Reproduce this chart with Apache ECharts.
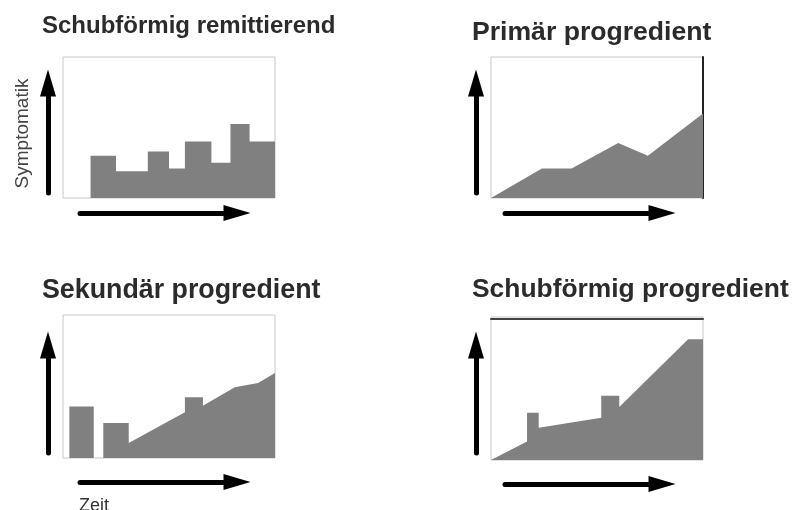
<!DOCTYPE html>
<html>
<head>
<meta charset="utf-8">
<script src="https://cdn.jsdelivr.net/npm/echarts@6/dist/echarts.min.js"></script>
<style>
  html, body { margin: 0; padding: 0; background: #fff; }
  #chart { width: 795px; height: 510px; }
</style>
</head>
<body>
<div id="chart"></div>
<script>
  // Verlaufsformen der MS – Werte in % von Box-Breite / Box-Höhe
  var titles = ['Schubförmig remittierend', 'Primär progredient', 'Sekundär progredient', 'Schubförmig progredient'];
  var yAxisName = 'Symptomatik';
  var xAxisName = 'Zeit';

  // Schubförmig remittierend (Stufen)
  var remitX = [13, 25, 40, 50, 57.5, 70, 79, 88, 100];
  var remitY = [30, 19, 33, 21, 40, 25, 52.5, 40, 40];
  // Primär progredient
  var primX = [0, 24, 38, 60, 74, 100];
  var primY = [0, 21, 21, 39, 30, 60];
  // Sekundär progredient
  var sekX = [3, 3, 14.5, 14.5, 19, 19, 31, 31, 57.5, 57.5, 66, 66, 81, 92, 100];
  var sekY = [0, 36, 36, 0, 0, 24.5, 24.5, 10.5, 32, 42.5, 42.5, 36.5, 49.5, 52.5, 59.5];
  // Schubförmig progredient
  var progX = [0, 17, 17, 22.5, 22.5, 52, 52, 60.5, 60.5, 93, 100];
  var progY = [0, 13, 33, 33, 22.5, 29.5, 45, 45, 37, 84.5, 84.5];

  function pairs(xs, ys) {
    return xs.map(function (x, i) { return [x, ys[i]]; });
  }
  var seriesData = [pairs(remitX, remitY), pairs(primX, primY), pairs(sekX, sekY), pairs(progX, progY)];

  // Layout: box [left, top, width, height], Pfeile [x, tipY, len] / [startX, y, len]
  var panels = [
    {box: [63, 57, 212, 141], yArrow: [48, 70, 123], xArrow: [80, 213, 170], title: [42, 14, 24]},
    {box: [491, 57, 212, 141], yArrow: [476, 70, 123], xArrow: [505, 213, 170], title: [472, 19, 26.6]},
    {box: [63, 315, 212, 143], yArrow: [48, 332, 121], xArrow: [80, 482, 170], title: [42, 277, 26.8]},
    {box: [491, 317, 212, 143], yArrow: [476, 332, 121], xArrow: [505, 484, 170], title: [472, 277, 26.4]}
  ];
  var HEAD = 13; // halbe Pfeilspitze

  var FONT = 'Liberation Sans';
  var grid = [], xAxis = [], yAxis = [], series = [], title = [];

  function hiddenAxis(gi, extra) {
    return Object.assign({
      type: 'value', gridIndex: gi, min: 0, max: 1,
      axisLine: {show: false}, axisTick: {show: false},
      axisLabel: {show: false}, splitLine: {show: false}
    }, extra || {});
  }
  function arrowLine() {
    return {
      show: true, onZero: false,
      symbol: ['none', 'triangle'], symbolSize: [16, 27],
      lineStyle: {color: '#000', width: 5}
    };
  }

  panels.forEach(function (p, i) {
    // Box mit Fläche
    grid.push({left: p.box[0], top: p.box[1], width: p.box[2], height: p.box[3],
      show: true, borderColor: '#c8c8c8', borderWidth: 1, backgroundColor: '#fff'});
    xAxis.push(hiddenAxis(i, {max: 100, show: i === 3, position: 'top', offset: -2,
      axisLine: {show: i === 3, onZero: false, lineStyle: {color: '#444', width: 2}}}));
    yAxis.push(hiddenAxis(i, {max: 100, show: i === 1, position: 'right',
      axisLine: {show: i === 1, onZero: false, lineStyle: {color: '#222', width: 2}}}));
    series.push({
      type: 'line', xAxisIndex: i, yAxisIndex: i,
      data: seriesData[i], step: i === 0 ? 'end' : false,
      showSymbol: false, silent: true,
      lineStyle: {width: 0}, areaStyle: {color: '#808080', opacity: 1}
    });
    title.push({text: titles[i], left: p.title[0], top: p.title[1], padding: 0,
      textStyle: {fontFamily: FONT, fontWeight: 'bold', fontSize: p.title[2], color: '#2b2b2b'}});
  });

  panels.forEach(function (p, i) {
    // senkrechter Pfeil
    var gi = grid.length;
    grid.push({left: p.yArrow[0], top: p.yArrow[1] + HEAD, width: 10, height: p.yArrow[2] - HEAD});
    xAxis.push(hiddenAxis(gi));
    var ya = hiddenAxis(gi, {axisLine: arrowLine()});
    if (i === 0) {
      ya.name = yAxisName;
      ya.nameLocation = 'middle';
      ya.nameRotate = 90;
      ya.nameGap = 16;
      ya.nameTextStyle = {fontFamily: FONT, fontSize: 19, color: '#444',
        padding: [0, 0, 0, 9], verticalAlign: 'bottom'};
    }
    yAxis.push(ya);
    // waagrechter Pfeil
    gi = grid.length;
    grid.push({left: p.xArrow[0], top: p.xArrow[1] - 1, width: p.xArrow[2] - HEAD, height: 1});
    xAxis.push(hiddenAxis(gi, {axisLine: arrowLine()}));
    yAxis.push(hiddenAxis(gi));
  });

  title.push({text: xAxisName, left: 79, top: 497, padding: 0,
    textStyle: {fontFamily: FONT, fontWeight: 'normal', fontSize: 18, color: '#333'}});

  var myChart = echarts.init(document.getElementById('chart'));
  myChart.setOption({
    backgroundColor: '#fff',
    animation: false,
    title: title,
    grid: grid,
    xAxis: xAxis,
    yAxis: yAxis,
    series: series
  });
</script>
</body>
</html>
